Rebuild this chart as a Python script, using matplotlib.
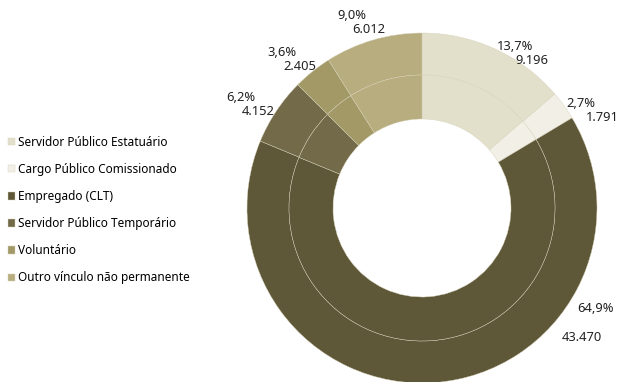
import numpy as np
import matplotlib.pyplot as plt

categorias = ['Servidor Público Estatuário', 'Cargo Público Comissionado', 'Empregado (CLT)',
              'Servidor Público Temporário', 'Voluntário', 'Outro vínculo não permanente']
quantidades = [9196, 1791, 43470, 4152, 2405, 6012]
percentuais = [13.7, 2.7, 64.9, 6.2, 3.6, 9.0]
cores = ['#e2dfcb', '#f2f0e6', '#5e5738', '#726a48', '#a39966', '#b8ad7e']

W, H = 617, 382
fig = plt.figure(figsize=(W / 100, H / 100), dpi=100)
ax = fig.add_axes([0, 0, 1, 1])

plt.rcParams['font.family'] = ['Noto Sans', 'DejaVu Sans']

cx, cy = 422, H - 208
r_ext, r_meio, r_int = 175, 133, 89
borda = dict(edgecolor='#d6d1b9', linewidth=0.3)

# anel externo (quantidades) e anel interno (percentuais)
fatias, _ = ax.pie(quantidades, colors=cores, startangle=90, counterclock=False,
                   center=(cx, cy), radius=r_ext, frame=True,
                   wedgeprops=dict(width=r_ext - r_meio, **borda))
ax.pie(percentuais, colors=cores, startangle=90, counterclock=False,
       center=(cx, cy), radius=r_meio, frame=True,
       wedgeprops=dict(width=r_meio - r_int, **borda))
ax.set_xlim(0, W)
ax.set_ylim(0, H)
ax.set_aspect('equal')
ax.axis('off')

# rótulos
total = sum(quantidades)
acum = np.cumsum([0] + quantidades[:-1])
ajuste = {2: (-33, 185)}  # rótulo do CLT deslocado para o lado direito
for i, (q, p) in enumerate(zip(quantidades, percentuais)):
    ang = 90 - 360 * (acum[i] + q / 2) / total
    direita = np.cos(np.deg2rad(ang)) >= 0 or i in ajuste
    r_lab = 178 if direita else 200
    ang, r_lab = ajuste.get(i, (ang, r_lab))
    rad = np.deg2rad(ang)
    x = cx + r_lab * np.cos(rad)
    y = cy + r_lab * np.sin(rad)
    ha = 'left' if direita else 'right'
    txt_p = f'{p:.1f}%'.replace('.', ',')
    txt_q = f'{q:,}'.replace(',', '.')
    ax.text(x, y, txt_p, ha=ha, va='center', fontsize=9.3, color='#222222')
    if i == 2:
        dx, dy = -15, -29
    else:
        dx, dy = 19, -14
    ax.text(x + dx, y + dy, txt_q, ha=ha, va='center', fontsize=9.3, color='#222222')

fig.legend(fatias, categorias, loc='center left', bbox_to_anchor=(0.005, 1 - 210 / H),
           frameon=False, fontsize=8.5, handlelength=0.6, handleheight=0.6,
           handletextpad=0.25, labelspacing=1.2, borderaxespad=0)

fig.savefig('out.png', dpi=100)
